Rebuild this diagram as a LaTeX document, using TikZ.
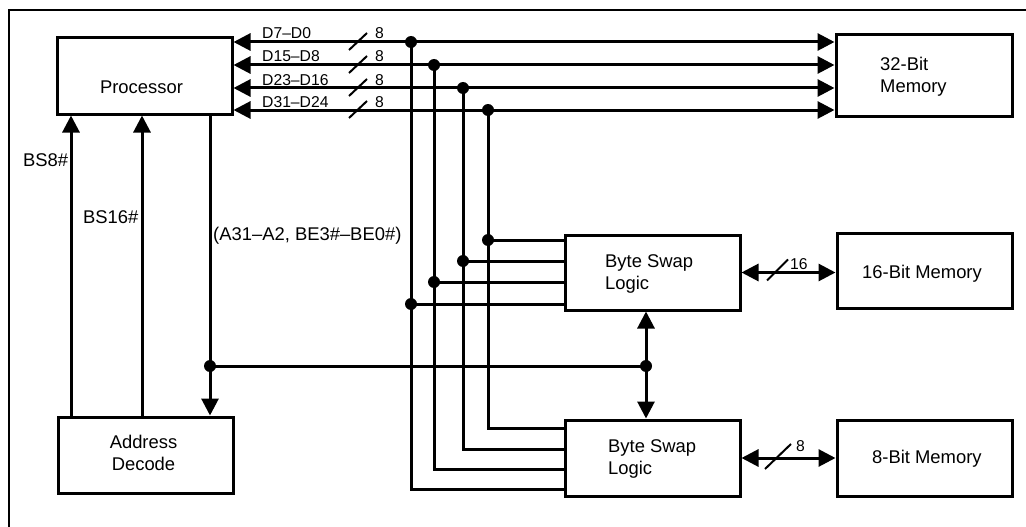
\documentclass[tikz,border=0pt]{standalone}
\usepackage{fontspec}
\setmainfont{Liberation Sans}
\usetikzlibrary{arrows.meta}
\begin{document}
\begin{tikzpicture}[x=1pt,y=-1pt,
  box/.style={draw,line width=3pt,inner sep=0pt},
  wire/.style={line width=3pt},
  tip/.tip={Triangle[length=17pt,width=17pt]},
  arr/.style={wire,-tip},
  dbl/.style={wire,tip-tip},
  lbl/.style={inner sep=0pt,font=\fontsize{18.4}{21.7}\selectfont},
  slbl/.style={inner sep=0pt,font=\fontsize{15.7}{17}\selectfont,anchor=base west},
  slash/.style={line width=2pt}]
\useasboundingbox (0,0) rectangle (1026,527);
% frame
\draw[line width=2.5pt] (9,527) -- (9,10) -- (1026,10);
% boxes
\node[box,minimum width=175pt,minimum height=76pt] (proc) at (144.5,76) {};
\node[box,minimum width=176pt,minimum height=81pt] (mem32) at (924,75.5) {};
\node[box,minimum width=175pt,minimum height=75pt] (bsl1) at (652.5,272.5) {};
\node[box,minimum width=175pt,minimum height=76pt] (bsl2) at (652.5,458) {};
\node[box,minimum width=175pt,minimum height=75pt] (mem16) at (924.5,270.5) {};
\node[box,minimum width=175pt,minimum height=76pt] (mem8) at (924.5,458) {};
\node[box,minimum width=175pt,minimum height=76pt] (adec) at (145.5,455) {};
% box texts
\node[lbl,anchor=base] (proct) at (141.5,93) {Processor};
\node[lbl,anchor=north west,align=left] (m32t) at (880,56.8) {32-Bit\\Memory};
\node[lbl,anchor=north west,align=left] (b1t) at (605,254.8) {Byte Swap\\Logic};
\node[lbl,anchor=north west,align=left] (b2t) at (608,439.3) {Byte Swap\\Logic};
\node[lbl,anchor=north,align=center] (adt) at (143.5,434.8) {Address\\Decode};
\node[lbl,anchor=base west] (m16t) at (862,278) {16-Bit Memory};
\node[lbl,anchor=base west] (m8t) at (872,463) {8-Bit Memory};
% junction coordinates
\coordinate (j1) at (411,42); \coordinate (j2) at (434,65);
\coordinate (j3) at (463,88); \coordinate (j4) at (488,110);
\coordinate (k1) at (411,304); \coordinate (k2) at (434,282);
\coordinate (k3) at (463,261); \coordinate (k4) at (488,240);
\coordinate (b1) at (411,489); \coordinate (b2) at (434,469);
\coordinate (b3) at (463,449); \coordinate (b4) at (488,428);
% data buses
\foreach \j in {j1,j2,j3,j4} {\draw[dbl] (proc.east |- \j) -- (mem32.west |- \j);}
\foreach \j/\b in {j1/b1,j2/b2,j3/b3,j4/b4} {\draw[wire] (\j) -- (\b) -- (bsl2.west |- \b);}
\foreach \k in {k1,k2,k3,k4} {\draw[wire] (\k) -- (bsl1.west |- \k);}
\foreach \p in {j1,j2,j3,j4,k1,k2,k3,k4} {\fill (\p) circle (6pt);}
% data labels
\node[slbl] (n1) at (262,39) {D7–D0};
\node[slbl] (n2) at (262,62) {D15–D8};
\node[slbl] (n3) at (262,85) {D23–D16};
\node[slbl] (n4) at (262,107) {D31–D24};
\foreach \y/\n in {42/1,65/2,88/3,110/4} {
  \coordinate (s\n) at (358,\y);
  \draw[slash] ([shift={(-9,8)}]s\n) -- ([shift={(9,-9)}]s\n);
  \node[slbl] (w\n) at (375,\y-3) {8};
}
% address
\coordinate (a) at (210,366); \coordinate (m) at (646,366);
\draw[arr] (proc.south -| a) -- (adec.north -| a);
\draw[wire] (a) -- (m);
\draw[dbl] (bsl1.south -| m) -- (bsl2.north -| m);
\fill (a) circle (6pt); \fill (m) circle (6pt);
\node[lbl,anchor=base west] (addr) at (213,240) {(A31–A2, BE3\#–BE0\#)};
% BS signals
\coordinate (c8) at (71,0); \coordinate (c16) at (142,0);
\draw[arr] (adec.north -| c8) -- (proc.south -| c8);
\draw[arr] (adec.north -| c16) -- (proc.south -| c16);
\node[lbl,anchor=base west] (bs8) at (23,166) {BS8\#};
\node[lbl,anchor=base west] (bs16) at (83,223) {BS16\#};
% 16 and 8 bit links
\draw[dbl] (bsl1.east) -- (mem16.west |- bsl1.east);
\coordinate (s16) at (778,272.5);
\draw[slash] ([shift={(-11,8)}]s16) -- ([shift={(10,-13)}]s16);
\node[slbl] (w16) at (790,269) {16};
\draw[dbl] (bsl2.east) -- (mem8.west |- bsl2.east);
\coordinate (s8) at (778,458);
\draw[slash] ([shift={(-13,11)}]s8) -- ([shift={(13,-14)}]s8);
\node[slbl] (w8) at (796,451) {8};
\end{tikzpicture}
\end{document}
